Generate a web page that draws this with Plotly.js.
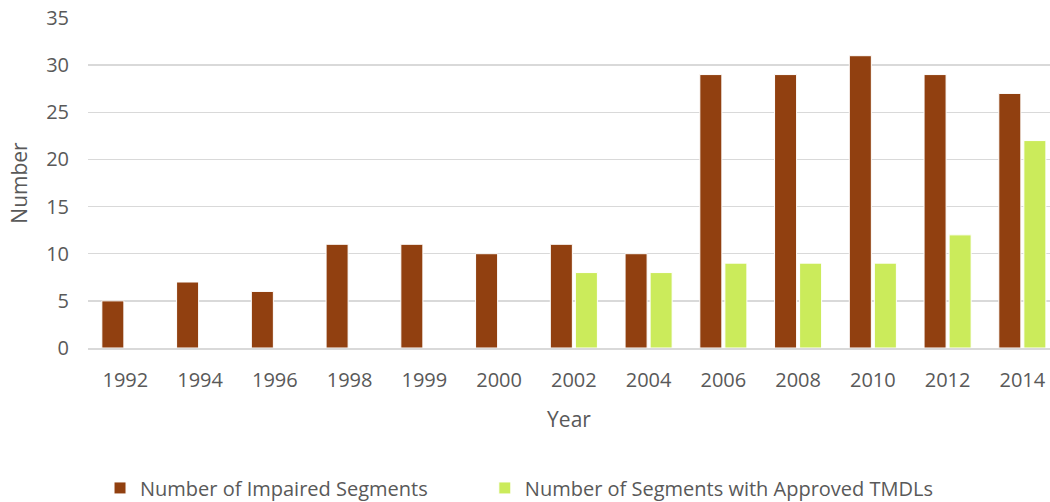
<!DOCTYPE html>
<html><head><meta charset="utf-8">
<script src="https://cdn.plot.ly/plotly-3.0.1.min.js"></script>
<style>html,body{margin:0;padding:0;background:#fff}</style>
</head><body>
<div id="chart" style="width:1050px;height:502px"></div>
<script>
const years = ['1992','1994','1996','1998','1999','2000','2002','2004','2006','2008','2010','2012','2014'];
const impaired = [5,7,6,11,11,10,11,10,29,29,31,29,27];
const approved = [null,null,null,null,null,null,8,8,9,9,9,12,22];
const seriesNames = ['Number of Impaired Segments','Number of Segments with Approved TMDLs'];

const data = [
  {type:'bar', x:years, y:impaired, name:seriesNames[0], legend:'legend',
   marker:{color:'#914010', line:{color:'#ffffff', width:1}}},
  {type:'bar', x:years, y:approved, name:seriesNames[1], legend:'legend2',
   marker:{color:'#cbeb5b', line:{color:'#ffffff', width:1}}}
];
const legendBase = {orientation:'h', xanchor:'left', yref:'container', y:0.028, yanchor:'middle',
                    font:{size:20}, itemwidth:30, bgcolor:'rgba(0,0,0,0)'};
const layout = {
  width:1050, height:502,
  margin:{l:88, r:0, t:18, b:154},
  font:{family:'Open Sans, sans-serif', color:'#595959', size:20},
  barmode:'group', bargap:0.33, bargroupgap:0.12,
  xaxis:{type:'category', range:[-0.5, 12.37], title:{text:'Year', font:{size:21}, standoff:20},
         tickfont:{size:20}, ticklabelstandoff:13, showgrid:false, showline:true, linecolor:'#d9d9d9', linewidth:2, ticks:''},
  yaxis:{range:[0,35], dtick:5, title:{text:'Number', font:{size:21}, standoff:12},
         tickfont:{size:20}, ticklabelstandoff:18, gridcolor:'#d9d9d9', gridwidth:1.5, zeroline:false, ticks:'', ticklen:0},
  legend:Object.assign({}, legendBase, {x:0.0125}),
  legend2:Object.assign({}, legendBase, {x:0.4125}),
  plot_bgcolor:'#fff', paper_bgcolor:'#fff', showlegend:true
};
Plotly.newPlot('chart', data, layout, {staticPlot:true});
</script>
</body></html>
